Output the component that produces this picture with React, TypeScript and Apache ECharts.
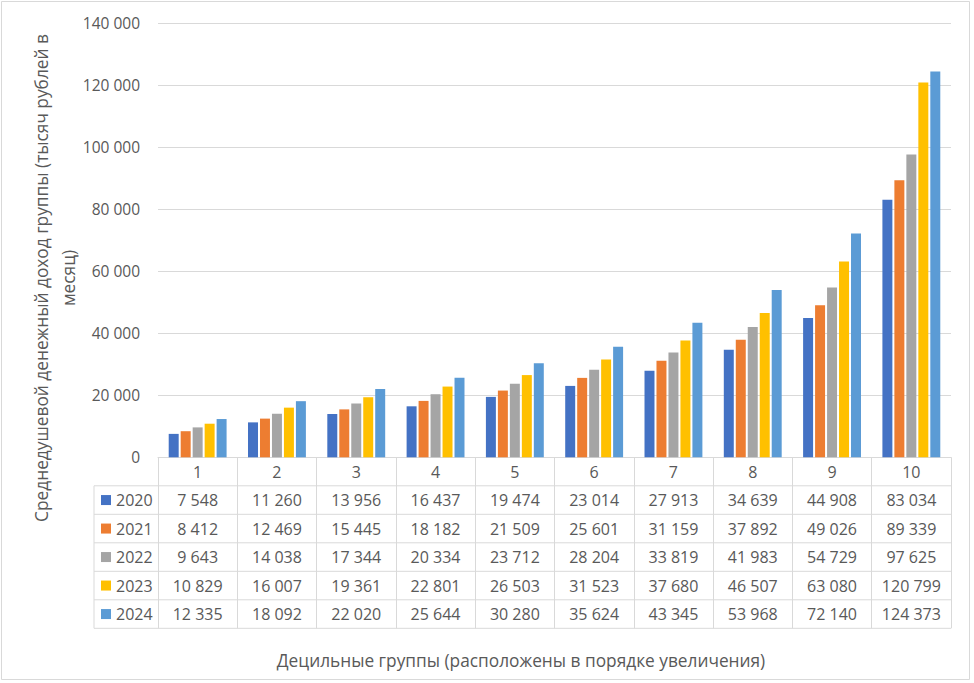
import React, { useEffect, useRef } from "react";
import * as echarts from "echarts";

const categories = ["1", "2", "3", "4", "5", "6", "7", "8", "9", "10"];
const years = ["2020", "2021", "2022", "2023", "2024"];
const v2020 = [7548, 11260, 13956, 16437, 19474, 23014, 27913, 34639, 44908, 83034];
const v2021 = [8412, 12469, 15445, 18182, 21509, 25601, 31159, 37892, 49026, 89339];
const v2022 = [9643, 14038, 17344, 20334, 23712, 28204, 33819, 41983, 54729, 97625];
const v2023 = [10829, 16007, 19361, 22801, 26503, 31523, 37680, 46507, 63080, 120799];
const v2024 = [12335, 18092, 22020, 25644, 30280, 35624, 43345, 53968, 72140, 124373];
const seriesValues = [v2020, v2021, v2022, v2023, v2024];
const colors = ["#4472C4", "#ED7D31", "#A5A5A5", "#FFC000", "#5B9BD5"];
const yTitle = "Среднедушевой денежный доход группы (тысяч рублей в\nмесяц)";
const xTitle = "Децильные группы (расположены в порядке увеличения)";

const fmt = (n: number) => String(n).replace(/\B(?=(\d{3})+(?!\d))/g, " ");

const W = 974;
const H = 683;
const FONT = "Open Sans";
const TXT = "#595959";
const LINE = "#d9d9d9";
const G_LEFT = 158;
const G_RIGHT = 951;
const G_TOP = 23;
const G_BOTTOM = 457.3;
const ROW = 28.5;
const TABLE_LEFT = 94;

export default function App() {
  const ref = useRef<HTMLDivElement>(null);
  useEffect(() => {
    document.body.style.margin = "0";
    const chart = echarts.init(ref.current!, null, { renderer: "svg" });
    const tableLines: any[] = [];
    for (let i = 1; i <= 6; i++) {
      const y = G_BOTTOM + ROW * i;
      tableLines.push({
        type: "line",
        shape: { x1: TABLE_LEFT, y1: y, x2: G_RIGHT, y2: y },
        style: { stroke: LINE, lineWidth: 1 },
        silent: true,
      });
    }
    tableLines.push({
      type: "line",
      shape: { x1: TABLE_LEFT, y1: G_BOTTOM + ROW, x2: TABLE_LEFT, y2: G_BOTTOM + ROW * 6 },
      style: { stroke: LINE, lineWidth: 1 },
      silent: true,
    });
    const legends = years.map((y, i) => ({
      orient: "vertical",
      left: 101,
      top: G_BOTTOM + ROW * (i + 1) + ROW / 2 - 8,
      padding: 0,
      itemWidth: 10,
      itemHeight: 10,
      icon: "rect",
      data: [y],
      textStyle: { fontFamily: FONT, fontSize: 16, color: TXT },
      selectedMode: false,
    }));
    chart.setOption({
      animation: false,
      backgroundColor: "#ffffff",
      textStyle: { fontFamily: FONT },
      grid: {
        left: G_LEFT,
        right: W - G_RIGHT,
        top: G_TOP,
        bottom: H - G_BOTTOM,
        containLabel: false,
      },
      legend: legends,
      xAxis: {
        type: "category",
        data: categories,
        axisLine: { show: true, lineStyle: { color: LINE, width: 1 } },
        axisTick: {
          show: true,
          alignWithLabel: false,
          interval: 0,
          length: ROW * 6,
          lineStyle: { color: LINE, width: 1 },
        },
        axisLabel: {
          interval: 0,
          margin: 0,
          fontFamily: FONT,
          fontSize: 16,
          color: TXT,
          lineHeight: ROW,
          formatter: (val: string, idx: number) =>
            [val, ...seriesValues.map((s) => fmt(s[idx]))].join("\n"),
        },
      },
      yAxis: {
        type: "value",
        min: 0,
        max: 140000,
        interval: 20000,
        axisLine: { show: false },
        axisTick: { show: false },
        splitLine: { lineStyle: { color: LINE, width: 1 } },
        axisLabel: {
          margin: 18,
          fontFamily: FONT,
          fontSize: 15.5,
          color: TXT,
          formatter: (v: number) => fmt(v),
        },
      },
      series: years.map((y, i) => ({
        name: y,
        type: "bar",
        data: seriesValues[i],
        itemStyle: { color: colors[i] },
        barGap: "20%",
        barCategoryGap: "27%",
      })),
      graphic: [
        {
          type: "rect",
          shape: { x: 1.5, y: 1.5, width: 968, height: 678 },
          style: { fill: "none", stroke: LINE, lineWidth: 1 },
          silent: true,
        },
        ...tableLines,
        {
          type: "text",
          x: 55,
          y: 278,
          rotation: Math.PI / 2,
          style: {
            text: yTitle,
            fontFamily: FONT,
            fontSize: 17.3,
            fill: TXT,
            align: "center",
            verticalAlign: "middle",
            lineHeight: 27,
          },
        },
        {
          type: "text",
          x: 521,
          y: 660,
          style: {
            text: xTitle,
            fontFamily: FONT,
            fontSize: 17.3,
            fill: TXT,
            align: "center",
            verticalAlign: "middle",
          },
        },
      ],
    });
    return () => chart.dispose();
  }, []);
  return <div ref={ref} style={{ width: W, height: H }} />;
}
